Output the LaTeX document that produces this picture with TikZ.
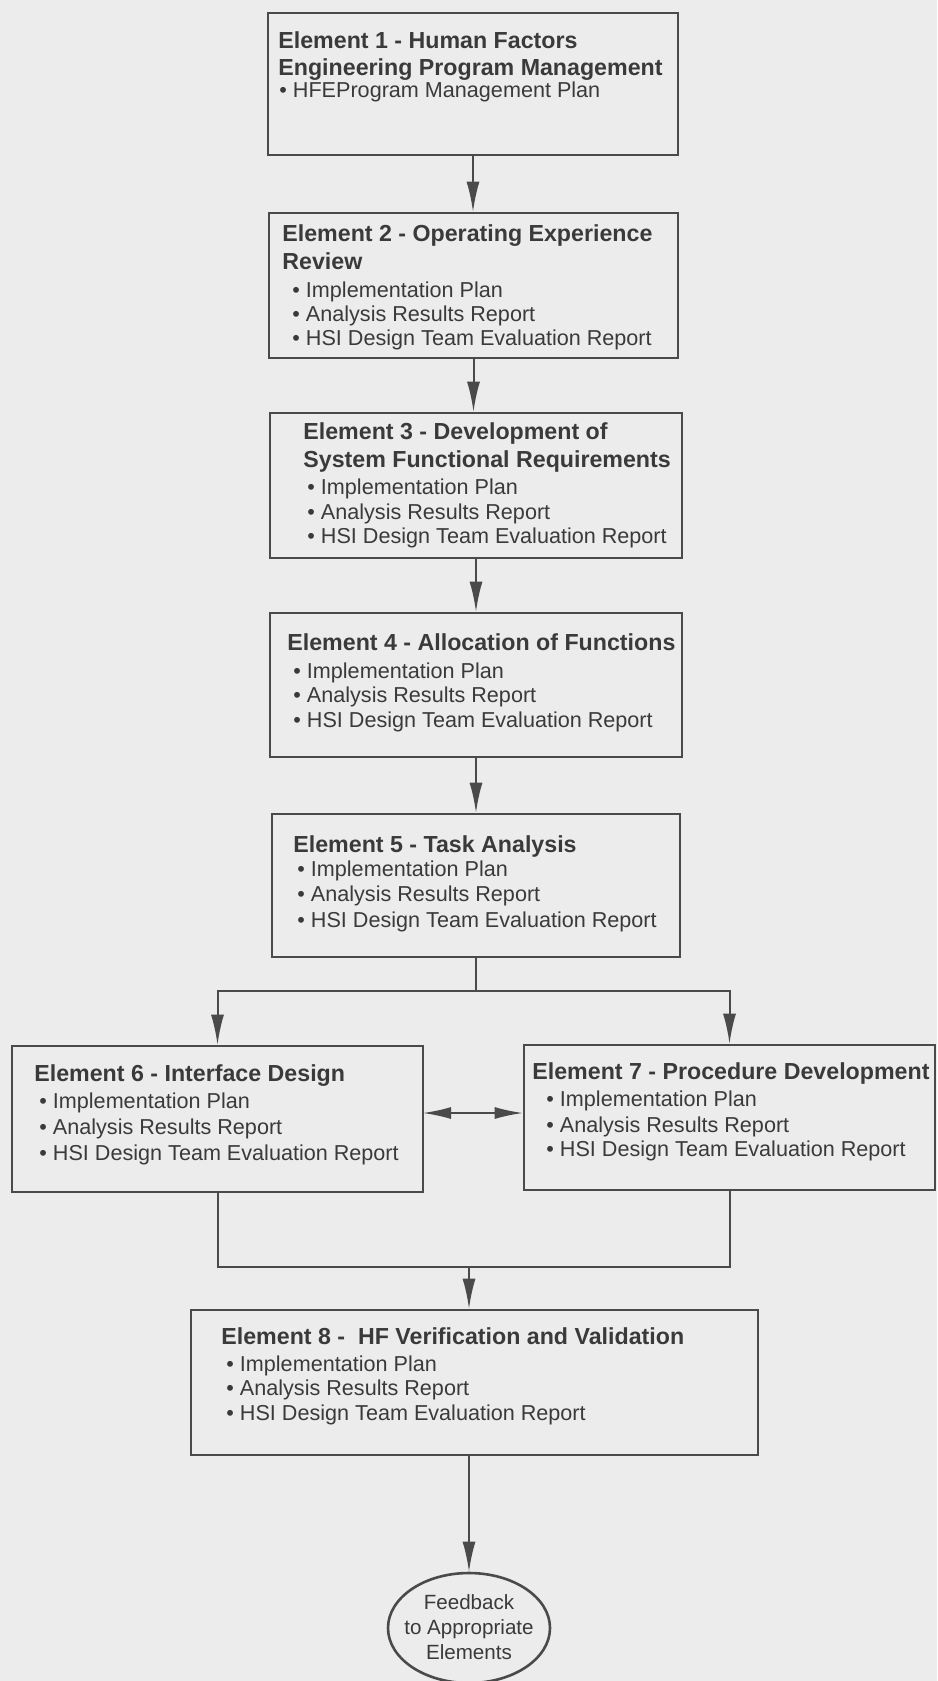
\documentclass[tikz,border=0pt]{standalone}
\usepackage{fontspec}
\setmainfont{Liberation Sans}
\usetikzlibrary{arrows.meta,fit,shapes.geometric}
\definecolor{paper}{HTML}{ECECEC}
\definecolor{ink}{HTML}{4A4A4A}
\definecolor{txt}{HTML}{3A3A3A}
\tikzset{
  elembox/.style={draw=ink, line width=1.3pt, inner sep=0pt},
  ttl/.style={anchor=base west, inner sep=0pt, text=txt,
    font=\bfseries\fontsize{11.6}{14}\selectfont},
  itm/.style={anchor=base west, inner sep=0pt, text=txt,
    font=\fontsize{10.8}{13}\selectfont},
  ctr/.style={anchor=base, inner sep=0pt, text=txt,
    font=\fontsize{10.3}{12}\selectfont},
  link/.style={draw=ink, line width=1pt},
  arr/.style={draw=ink, line width=1pt, -{Latex[length=15pt,width=6.5pt]}},
  dblarr/.style={draw=ink, line width=0.8pt,
    {Latex[length=14pt,width=6pt]}-{Latex[length=14pt,width=6pt]}},
}
\begin{document}
\begin{tikzpicture}[x=0.5pt,y=-0.5pt]
  % page
  \fill[paper] (0,0) rectangle (937,1681);
  \useasboundingbox (0,0) rectangle (937,1681);

  % element boxes
  \node[elembox, fit={(268,13) (678,155)}]    (e1) {};
  \node[elembox, fit={(269,213) (678,358)}]   (e2) {};
  \node[elembox, fit={(270,413) (682,558)}]   (e3) {};
  \node[elembox, fit={(270,613) (682,757)}]   (e4) {};
  \node[elembox, fit={(272,814) (680,957)}]   (e5) {};
  \node[elembox, fit={(12,1046) (423,1192)}]  (e6) {};
  \node[elembox, fit={(524,1045) (935,1190)}] (e7) {};
  \node[elembox, fit={(191,1310) (758,1455)}] (e8) {};
  \node[draw=ink, line width=1.3pt, ellipse, minimum width=81pt,
        minimum height=55pt, inner sep=0pt] (fb) at (469,1628) {};

  % element 1
  \node[ttl] (t1a) at (278,48) {Element 1 - Human Factors};
  \node[ttl] (t1b) at (278,75) {Engineering Program Management};
  \node[itm] (t1c) at (279,97) {• HFEProgram Management Plan};

  % element 2
  \node[ttl] (t2a) at (282,241) {Element 2 - Operating Experience};
  \node[ttl] (t2b) at (282,269) {Review};
  \node[itm] (t2c) at (292,297) {• Implementation Plan};
  \node[itm] (t2d) at (292,321) {• Analysis Results Report};
  \node[itm] (t2e) at (292,345) {• HSI Design Team Evaluation Report};

  % element 3
  \node[ttl] (t3a) at (303,439) {Element 3 - Development of};
  \node[ttl] (t3b) at (303,467) {System Functional Requirements};
  \node[itm] (t3c) at (307,494) {• Implementation Plan};
  \node[itm] (t3d) at (307,519) {• Analysis Results Report};
  \node[itm] (t3e) at (307,543) {• HSI Design Team Evaluation Report};

  % element 4
  \node[ttl] (t4a) at (287,650) {Element 4 - Allocation of Functions};
  \node[itm] (t4b) at (293,678) {• Implementation Plan};
  \node[itm] (t4c) at (293,702) {• Analysis Results Report};
  \node[itm] (t4d) at (293,727) {• HSI Design Team Evaluation Report};

  % element 5
  \node[ttl] (t5a) at (293,852) {Element 5 - Task Analysis};
  \node[itm] (t5b) at (297,876) {• Implementation Plan};
  \node[itm] (t5c) at (297,901) {• Analysis Results Report};
  \node[itm] (t5d) at (297,927) {• HSI Design Team Evaluation Report};

  % element 6
  \node[ttl] (t6a) at (34,1081) {Element 6 - Interface Design};
  \node[itm] (t6b) at (39,1108) {• Implementation Plan};
  \node[itm] (t6c) at (39,1134) {• Analysis Results Report};
  \node[itm] (t6d) at (39,1160) {• HSI Design Team Evaluation Report};

  % element 7
  \node[ttl] (t7a) at (532,1079) {Element 7 - Procedure Development};
  \node[itm] (t7b) at (546,1106) {• Implementation Plan};
  \node[itm] (t7c) at (546,1132) {• Analysis Results Report};
  \node[itm] (t7d) at (546,1156) {• HSI Design Team Evaluation Report};

  % element 8
  \node[ttl] (t8a) at (221,1344) {Element 8 -\ \ HF Verification and Validation};
  \node[itm] (t8b) at (226,1371) {• Implementation Plan};
  \node[itm] (t8c) at (226,1395) {• Analysis Results Report};
  \node[itm] (t8d) at (226,1420) {• HSI Design Team Evaluation Report};

  % feedback
  \node[ctr] (tfa) at (469,1609) {Feedback};
  \node[ctr] (tfb) at (469,1634) {to Appropriate};
  \node[ctr] (tfc) at (469,1659) {Elements};

  % straight flow 1 -> 5
  \draw[arr] (e1.south) -- (e1.south |- e2.north);
  \draw[arr] (e2.south) -- (e2.south |- e3.north);
  \draw[arr] (e3.south) -- (e3.south |- e4.north);
  \draw[arr] (e4.south) -- (e4.south |- e5.north);

  % split to 6 and 7
  \coordinate (sp) at (476,991);
  \draw[link] (e5.south) -- (e5.south |- sp);
  \draw[arr] (e5.south |- sp) -| (e6.north);
  \draw[arr] (e5.south |- sp) -| (e7.north);

  % exchange between 6 and 7
  \coordinate (xl) at (423,1113);
  \draw[dblarr] (xl) -- (xl -| e7.west);

  % merge into 8
  \coordinate (mg) at (469,1267);
  \draw[link] (e6.south) |- (mg);
  \draw[link] (e7.south) |- (mg);
  \draw[arr] (mg) -- (mg |- e8.north);

  % to feedback
  \draw[arr] (e8.south -| fb.north) -- (fb.north);
\end{tikzpicture}
\end{document}
